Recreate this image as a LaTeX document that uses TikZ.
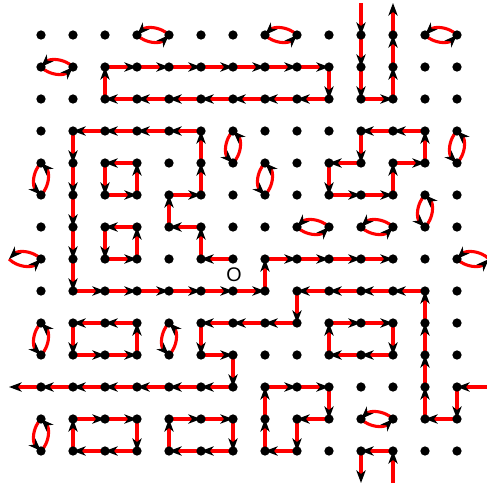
\documentclass[tikz,border=0pt]{standalone}
\usepackage{fontspec}
\newfontfamily\labelfont{Liberation Sans}
\usetikzlibrary{arrows.meta,backgrounds}

\begin{document}
\begin{tikzpicture}[x=0.8cm, y=0.8cm,
  dot/.style={circle, fill=black, inner sep=0pt, minimum size=6.6pt},
  link/.style={red, line width=2.2pt,
               -{Stealth[length=9pt, width=6.6pt, inset=2.6pt, color=black]}},
  pairlink/.style={link, bend right=45},
  ]
  \useasboundingbox (-1.28125,1.09375) rectangle (13.9375,-14.1875);

  % lattice points
  \foreach \i in {0,...,13}
    \foreach \j in {0,...,13}
      \node[dot] (v\i-\j) at (\i,-\j) {};
  % neighbours just outside the window
  \coordinate (top10) at (10,1);
  \coordinate (top11) at (11,1);
  \coordinate (bot10) at (10,-14);
  \coordinate (bot11) at (11,-14);
  \coordinate (left7) at (-1,-7);
  \coordinate (left11) at (-1,-11);
  \coordinate (right7) at (14,-7);
  \coordinate (right11) at (14,-11);

  \node[font=\labelfont\fontsize{14}{14}\selectfont] (origin) at (6.03,-7.5) {O};

  \begin{scope}[on background layer]
    \clip (-1.28125,1.09375) rectangle (13.9375,-14.1875);
    % walk from the origin
    \foreach \p [remember=\p as \q (initially v6-7)] in {v5-7,v5-6,v4-6,v4-5,
        v5-5,v5-4,v5-3,v4-3,v3-3,v2-3,v1-3,v1-4,v1-5,v1-6,v1-7,v1-8,v2-8,
        v3-8,v4-8,v5-8,v6-8,v7-8,v7-7,v8-7,v9-7,v10-7,v11-7}
      \draw[link] (\q.center) -- (\p.center);
    % long walk across the window
    \foreach \p [remember=\p as \q (initially right11)] in {v13-11,v13-12,
        v12-12,v12-11,v12-10,v12-9,v12-8,v11-8,v10-8,v9-8,v8-8,v8-9,v7-9,
        v6-9,v5-9,v5-10,v6-10,v6-11,v5-11,v4-11,v3-11,v2-11,v1-11,v0-11,left11}
      \draw[link] (\q.center) -- (\p.center);
    % top and bottom walks
    \foreach \p [remember=\p as \q (initially top10)] in {v10-0,v10-1,v10-2,
        v11-2,v11-1,v11-0,top11}
      \draw[link] (\q.center) -- (\p.center);
    \foreach \p [remember=\p as \q (initially bot11)] in {v11-13,v10-13,bot10}
      \draw[link] (\q.center) -- (\p.center);
    % cycles
    \foreach \p [remember=\p as \q (initially v2-1)] in {v3-1,v4-1,v5-1,v6-1,
        v7-1,v8-1,v9-1,v9-2,v8-2,v7-2,v6-2,v5-2,v4-2,v3-2,v2-2,v2-1}
      \draw[link] (\q.center) -- (\p.center);
    \foreach \p [remember=\p as \q (initially v9-4)] in {v9-5,v10-5,v11-5,
        v11-4,v12-4,v12-3,v11-3,v10-3,v10-4,v9-4}
      \draw[link] (\q.center) -- (\p.center);
    \foreach \p [remember=\p as \q (initially v2-4)] in {v2-5,v3-5,v3-4,v2-4}
      \draw[link] (\q.center) -- (\p.center);
    \foreach \p [remember=\p as \q (initially v2-6)] in {v2-7,v3-7,v3-6,v2-6}
      \draw[link] (\q.center) -- (\p.center);
    \foreach \p [remember=\p as \q (initially v3-9)] in {v2-9,v1-9,v1-10,
        v2-10,v3-10,v3-9}
      \draw[link] (\q.center) -- (\p.center);
    \foreach \p [remember=\p as \q (initially v9-9)] in {v10-9,v11-9,v11-10,
        v10-10,v9-10,v9-9}
      \draw[link] (\q.center) -- (\p.center);
    \foreach \p [remember=\p as \q (initially v7-11)] in {v8-11,v9-11,v9-12,
        v8-12,v8-13,v7-13,v7-12,v7-11}
      \draw[link] (\q.center) -- (\p.center);
    \foreach \p [remember=\p as \q (initially v1-12)] in {v2-12,v3-12,v3-13,
        v2-13,v1-13,v1-12}
      \draw[link] (\q.center) -- (\p.center);
    \foreach \p [remember=\p as \q (initially v4-12)] in {v5-12,v6-12,v6-13,
        v5-13,v4-13,v4-12}
      \draw[link] (\q.center) -- (\p.center);
    % two-cycles
    \foreach \a/\b in {v3-0/v4-0, v7-0/v8-0, v12-0/v13-0, v0-1/v1-1,
        v8-6/v9-6, v10-6/v11-6, left7/v0-7, v13-7/right7, v10-12/v11-12,
        v6-3/v6-4, v13-3/v13-4, v0-4/v0-5, v7-4/v7-5, v12-5/v12-6,
        v0-9/v0-10, v4-9/v4-10, v0-12/v0-13}
    {
      \draw[pairlink] (\a.center) to (\b.center);
      \draw[pairlink] (\b.center) to (\a.center);
    }
  \end{scope}
\end{tikzpicture}
\end{document}
